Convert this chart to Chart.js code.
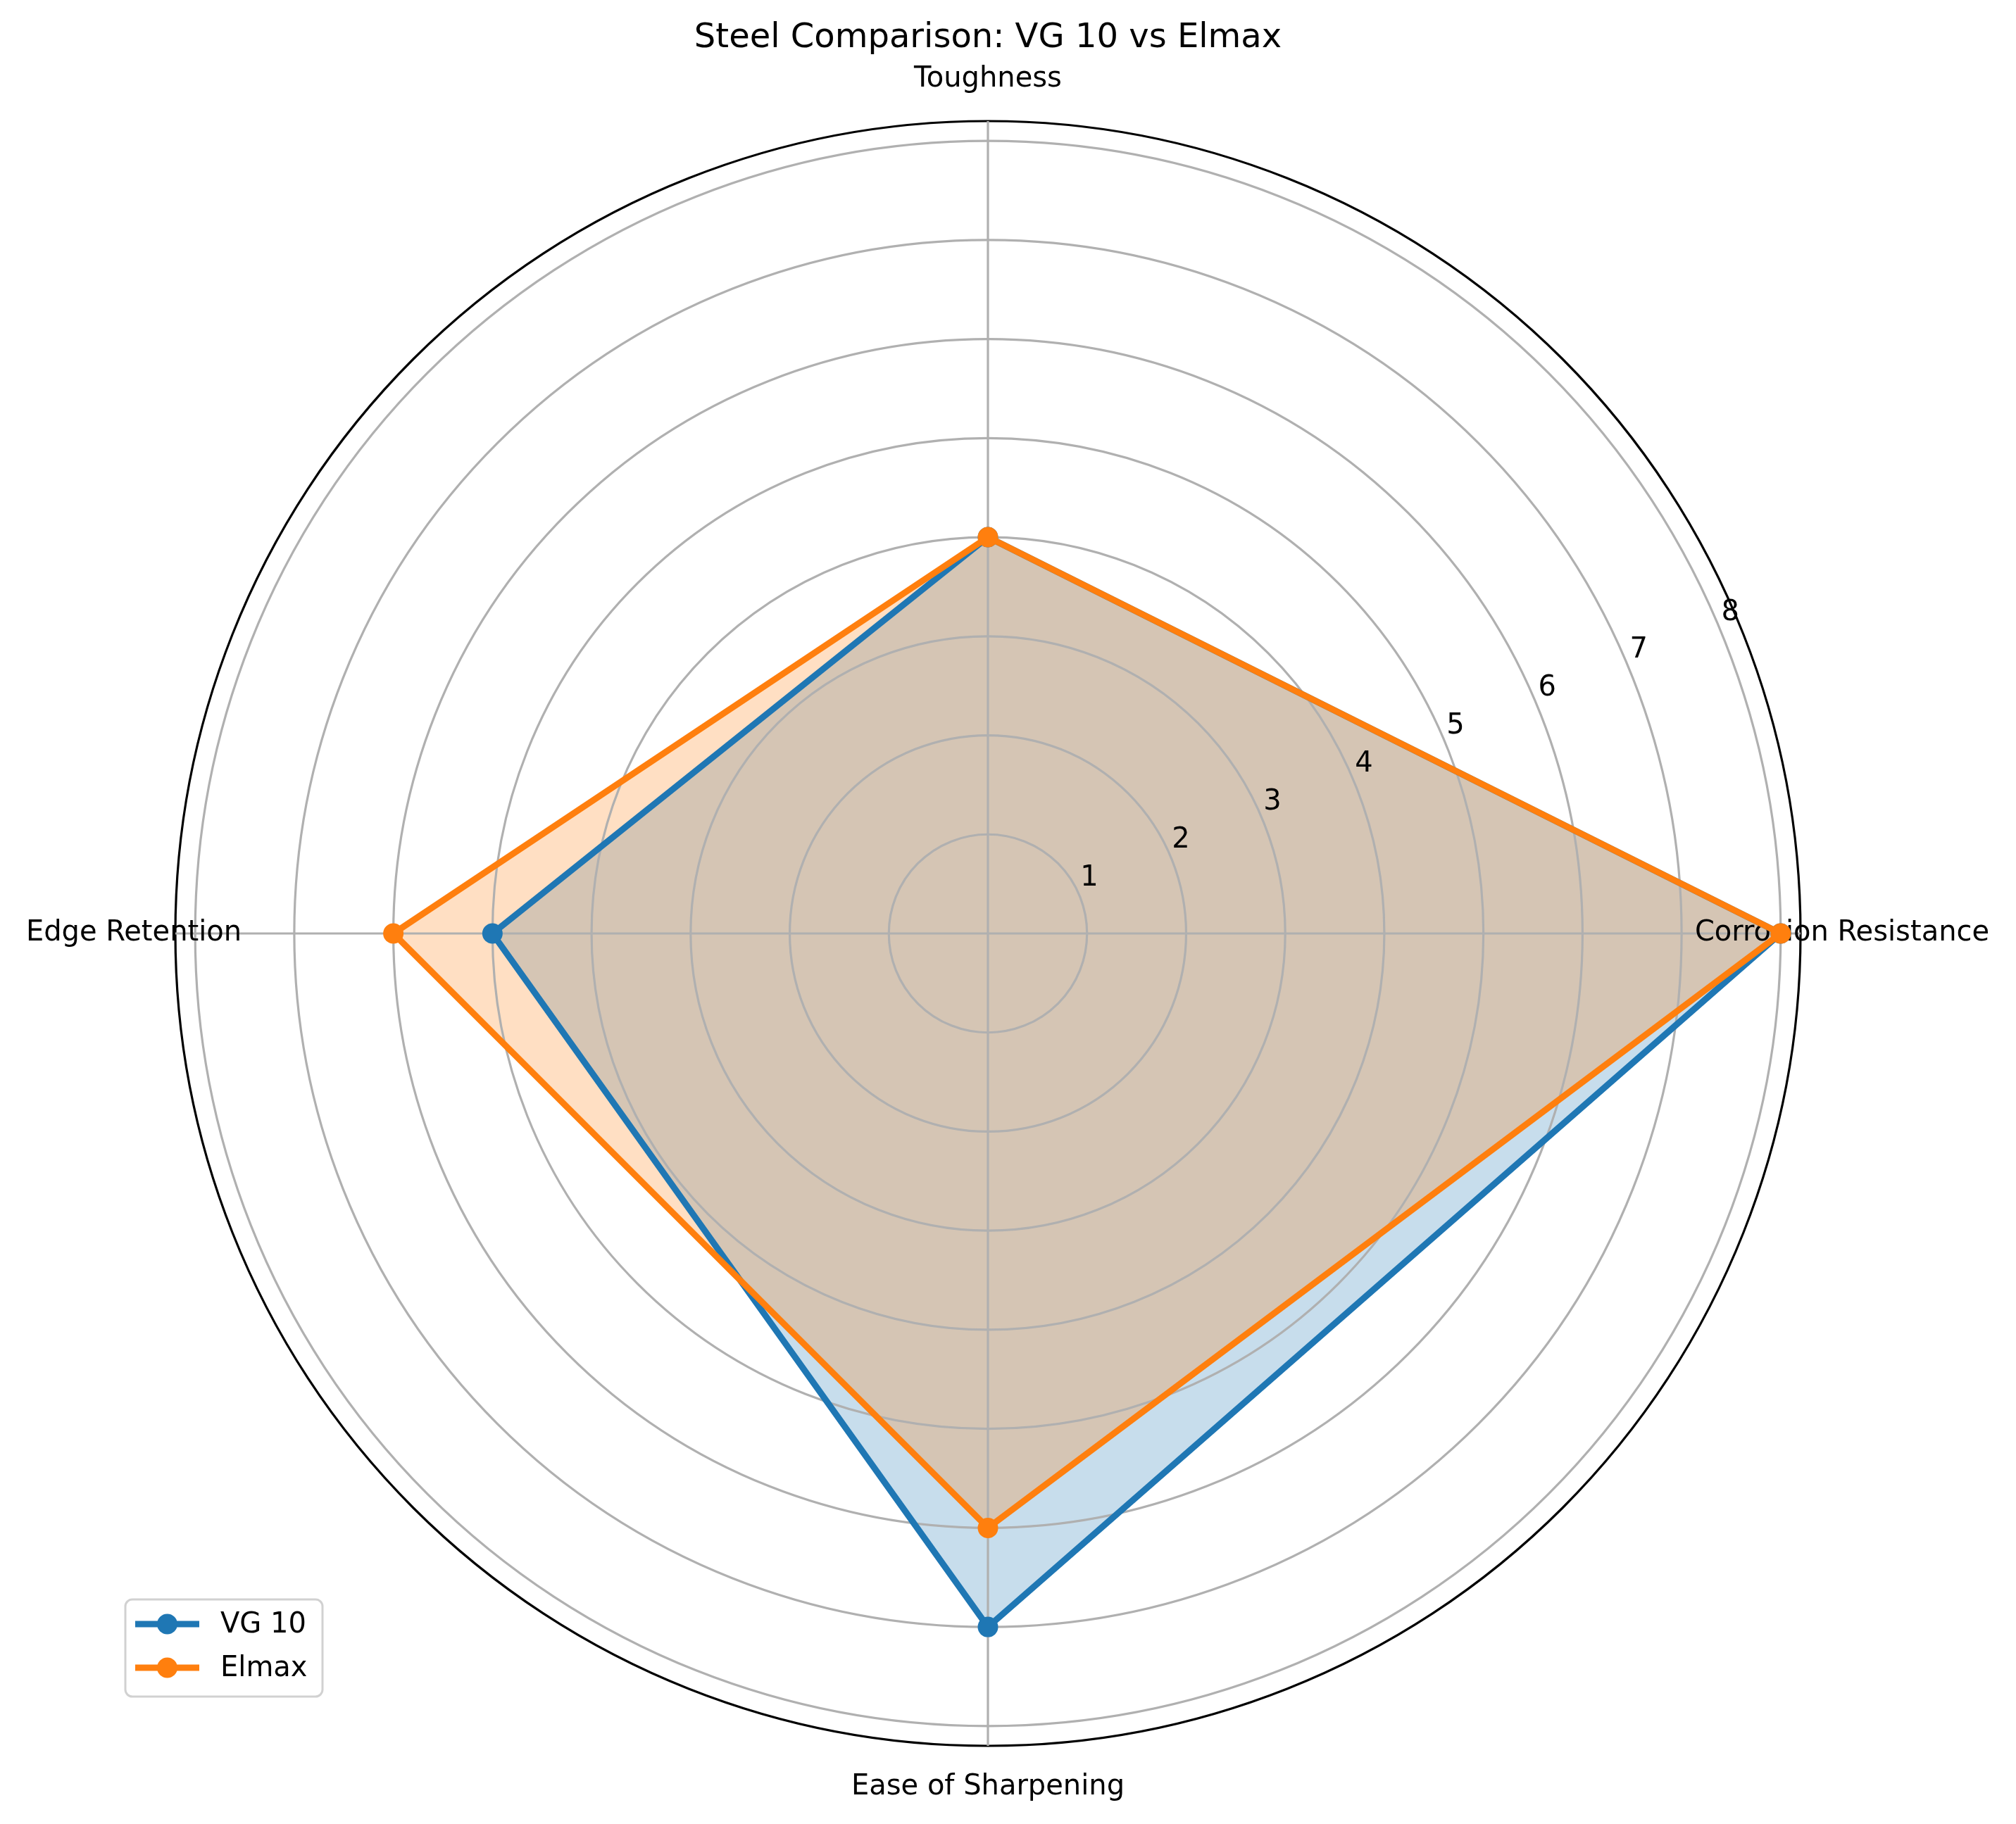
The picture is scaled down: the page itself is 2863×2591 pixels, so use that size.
<!DOCTYPE html>
<html>
<head>
<meta charset="utf-8">
<script src="https://cdn.jsdelivr.net/npm/chart.js@4.4.1/dist/chart.umd.min.js"></script>
<style>
  html, body { margin: 0; padding: 0; background: #ffffff; }
  #chart { display: block; }
</style>
</head>
<body>
<canvas id="chart" width="2863" height="2591"></canvas>
<script>
// Axis order follows Chart.js (starts at top, goes clockwise)
const categories = ['Toughness', 'Corrosion Resistance', 'Ease of Sharpening', 'Edge Retention'];
const vg10Values = [4, 8, 7, 5];
const elmaxValues = [4, 8, 6, 6];
const seriesNames = ['VG 10', 'Elmax'];
const rTicks = [1, 2, 3, 4, 5, 6, 7, 8];
const rMax = 8.2;

const FONT = "'DejaVu Sans', 'Liberation Sans', sans-serif";
const BLUE = '#1f77b4';
const ORANGE = '#ff7f0e';

// draws the axis labels and the radial tick labels (matplotlib style)
const polarLabels = {
    id: 'polarLabels',
    beforeDatasetsDraw(chart) {
        const scale = chart.scales.r;
        const ctx = chart.ctx;
        ctx.save();
        ctx.fillStyle = '#000000';
        ctx.font = '40px ' + FONT;
        ctx.textAlign = 'center';
        ctx.textBaseline = 'middle';

        const outer = scale.getDistanceFromCenterForValue(rMax);
        chart.data.labels.forEach((label, i) => {
            const p = scale.getPointPosition(i, outer + 59);
            ctx.fillText(label, p.x, p.y);
        });

        // tick labels along the 22.5 degree line
        const ang = -22.5 * Math.PI / 180;
        rTicks.forEach(v => {
            const d = scale.getDistanceFromCenterForValue(v);
            const x = scale.xCenter + Math.cos(ang) * d + 14;
            const y = scale.yCenter + Math.sin(ang) * d - 25;
            ctx.fillText(String(v), x, y);
        });
        ctx.restore();
    }
};

// legend box in the lower left corner
const cornerLegend = {
    id: 'cornerLegend',
    afterDraw(chart) {
        const ctx = chart.ctx;
        const x0 = 178, y0 = 2272, w = 280, h = 138;
        ctx.save();
        ctx.fillStyle = 'rgba(255,255,255,0.8)';
        ctx.strokeStyle = 'rgba(204,204,204,0.9)';
        ctx.lineWidth = 3;
        ctx.beginPath();
        ctx.roundRect(x0, y0, w, h, 10);
        ctx.fill();
        ctx.stroke();

        chart.data.datasets.forEach((ds, i) => {
            const y = 2307 + i * 62;
            ctx.strokeStyle = ds.borderColor;
            ctx.lineWidth = 9;
            ctx.beginPath();
            ctx.moveTo(192, y);
            ctx.lineTo(283, y);
            ctx.stroke();
            ctx.fillStyle = ds.borderColor;
            ctx.beginPath();
            ctx.arc(237.5, y, 14.5, 0, Math.PI * 2);
            ctx.fill();
            ctx.fillStyle = '#000000';
            ctx.font = '40px ' + FONT;
            ctx.textAlign = 'left';
            ctx.textBaseline = 'middle';
            ctx.fillText(ds.label, 313, y + 2);
        });
        ctx.restore();
    }
};

new Chart(document.getElementById('chart'), {
    type: 'radar',
    data: {
        labels: categories,
        datasets: [
            {
                label: seriesNames[0],
                data: vg10Values,
                borderColor: BLUE,
                backgroundColor: 'rgba(31, 119, 180, 0.25)',
                pointBackgroundColor: BLUE,
                fill: true,
                order: 1
            },
            {
                label: seriesNames[1],
                data: elmaxValues,
                borderColor: ORANGE,
                backgroundColor: 'rgba(255, 127, 14, 0.25)',
                pointBackgroundColor: ORANGE,
                fill: true,
                order: 0
            }
        ]
    },
    options: {
        responsive: false,
        animation: false,
        devicePixelRatio: 1,
        layout: {
            padding: { left: 249, right: 306, top: 0, bottom: 110 }
        },
        elements: {
            line: { borderWidth: 9, tension: 0 },
            point: { radius: 14.5, borderWidth: 0, hoverRadius: 14.5 }
        },
        scales: {
            r: {
                min: 0,
                max: rMax,
                afterBuildTicks: (scale) => {
                    scale.ticks = [0, ...rTicks, rMax].map(v => ({ value: v }));
                },
                ticks: { display: false },
                pointLabels: { display: false },
                grid: {
                    circular: true,
                    lineWidth: 3.2,
                    color: (c) => (c.tick && c.tick.value === rMax) ? '#000000' : '#b0b0b0'
                },
                angleLines: { color: '#b0b0b0', lineWidth: 3.2 }
            }
        },
        plugins: {
            filler: { drawTime: 'beforeDraw' },
            legend: { display: false },
            tooltip: { enabled: false },
            title: {
                display: true,
                text: 'Steel Comparison: VG 10 vs Elmax',
                color: '#000000',
                font: { family: FONT, size: 48, weight: 'normal', lineHeight: 1.2 },
                padding: { top: 26, bottom: 89 }
            }
        }
    },
    plugins: [polarLabels, cornerLegend]
});
</script>
</body>
</html>
